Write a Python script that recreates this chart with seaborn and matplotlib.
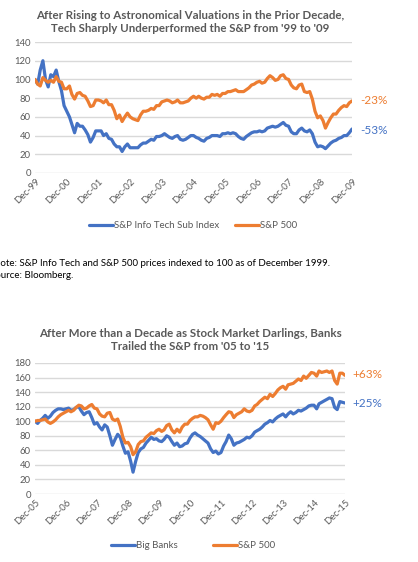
import numpy as np
import pandas as pd
import seaborn as sns
import matplotlib.pyplot as plt
import matplotlib.dates as mdates

# ---- data: monthly index levels ----
tech_dates = pd.date_range('1999-12-31', periods=121, freq='ME')
tech_it = [100,
    95, 110, 120, 100, 92, 105, 103, 110, 98, 88, 72, 66,
    60, 52, 43, 53, 50, 50, 46, 41, 33, 38, 45, 45,
    45, 40, 42, 37, 36, 31, 28, 28, 23, 28, 31, 27,
    27, 27, 27, 30, 32, 32, 34, 36, 35, 39, 39, 40,
    42, 40, 38, 37, 39, 40, 36, 35, 36, 38, 40, 40,
    38, 37, 35, 34, 37, 38, 40, 40, 40, 39, 42, 42,
    43, 42, 43, 42, 39, 37, 36, 39, 41, 43, 44, 44,
    45, 44, 45, 48, 49, 50, 49, 50, 52, 54, 51, 50,
    44, 42, 42, 46, 48, 45, 44, 46, 42, 33, 28, 29,
    28, 26, 29, 32, 34, 35, 37, 38, 40, 40, 43, 47]
tech_sp = [100,
    95, 93, 102, 99, 97, 99, 97, 103, 98, 97, 90, 90,
    93, 84, 79, 85, 86, 83, 82, 77, 71, 72, 78, 78,
    77, 75, 78, 73, 73, 67, 58, 62, 55, 60, 64, 60,
    58, 57, 56, 62, 66, 66, 67, 69, 68, 72, 72, 76,
    77, 78, 77, 75, 76, 78, 75, 75, 76, 77, 80, 82,
    80, 82, 80, 79, 81, 81, 84, 83, 84, 82, 85, 85,
    87, 87, 88, 89, 87, 87, 87, 89, 91, 94, 95, 97,
    98, 96, 97, 101, 104, 102, 99, 100, 104, 105, 101, 100,
    94, 91, 90, 94, 95, 87, 86, 87, 79, 66, 59, 61,
    56, 48, 54, 59, 63, 63, 67, 70, 72, 71, 75, 77]

bank_dates = pd.date_range('2005-12-31', periods=121, freq='ME')
banks = [100,
    97, 101, 104, 108, 104, 107, 112, 115, 117, 117, 116, 117,
    118, 115, 116, 119, 120, 114, 109, 112, 113, 105, 96, 98,
    92, 88, 95, 92, 80, 67, 75, 82, 78, 66, 56, 58,
    45, 30, 45, 57, 62, 64, 70, 74, 78, 75, 76, 73,
    72, 75, 80, 78, 72, 67, 70, 65, 66, 69, 70, 77,
    82, 84, 81, 79, 76, 73, 70, 62, 57, 59, 55, 57,
    66, 72, 81, 76, 67, 70, 71, 73, 75, 78, 77, 80,
    85, 87, 89, 92, 96, 98, 101, 99, 103, 106, 108, 110,
    106, 110, 113, 110, 112, 115, 114, 116, 118, 121, 122, 122,
    117, 124, 126, 128, 130, 132, 131, 119, 116, 127, 126, 125]
bank_sp = [100,
    101, 101, 102, 103, 99, 97, 99, 102, 106, 109, 111, 113,
    115, 113, 115, 119, 122, 121, 117, 118, 121, 123, 118, 117,
    110, 107, 106, 111, 112, 103, 101, 103, 93, 78, 70, 71,
    65, 54, 58, 68, 72, 73, 78, 81, 84, 83, 87, 89,
    86, 88, 94, 96, 88, 84, 89, 85, 92, 96, 96, 101,
    104, 106, 106, 108, 107, 105, 102, 95, 89, 98, 97, 100,
    105, 109, 113, 112, 105, 109, 111, 113, 117, 114, 113, 115,
    121, 123, 127, 130, 133, 131, 137, 134, 138, 143, 146, 148,
    144, 150, 151, 152, 155, 158, 156, 162, 159, 163, 167, 166,
    162, 169, 167, 168, 169, 167, 169, 156, 151, 166, 166, 163]

BLUE = '#4472C4'
ORANGE = '#ED7D31'
GREY = '#595959'

sns.set_style('white')
plt.rcParams['font.family'] = ['Lato', 'DejaVu Sans']

W, H = 418, 562
fig = plt.figure(figsize=(W / 100, H / 100), dpi=100)


def style_axis(ax, dates, ymax, end_labels):
    ax.set_ylim(0, ymax)
    ax.set_yticks(np.arange(0, ymax + 1, 20))
    ax.set_xlim(dates[0], dates[-1])
    ticks = [d for d in dates if d.month == 12]
    ax.set_xticks(ticks)
    ax.xaxis.set_major_formatter(mdates.DateFormatter('%b-%y'))
    ax.grid(axis='y', color='#D9D9D9', lw=1)
    ax.grid(axis='x', visible=False)
    for s in ax.spines.values():
        s.set_visible(False)
    ax.tick_params(axis='both', length=0, labelsize=6.8, labelcolor=GREY, pad=3)
    for lab in ax.get_xticklabels():
        lab.set_rotation(45)
        lab.set_ha('right')
        lab.set_rotation_mode('anchor')
    ax.set_xlabel('')
    ax.set_ylabel('')
    for txt, yv, col in end_labels:
        ax.text(1.025, yv, txt, transform=ax.get_yaxis_transform(),
                color=col, fontsize=8.5, va='center', ha='left')


# ---- top chart ----
df1 = pd.DataFrame({'date': list(tech_dates) * 2,
                    'value': tech_it + tech_sp,
                    'series': ['S&P Info Tech Sub Index'] * 121 + ['S&P 500'] * 121})
ax1 = fig.add_axes([35 / W, 1 - 173 / H, 317 / W, 131 / H])
sns.lineplot(data=df1, x='date', y='value', hue='series',
             palette=[BLUE, ORANGE], lw=2.3, ax=ax1)
style_axis(ax1, tech_dates, 140, [('-23%', 77, ORANGE), ('-53%', 45, BLUE)])
ax1.legend(loc='center', bbox_to_anchor=(193 / W, 1 - 226 / H),
           bbox_transform=fig.transFigure, ncol=2, frameon=False,
           fontsize=7, labelcolor=GREY, handlelength=2.5, handletextpad=0.1,
           columnspacing=1.6)

fig.text(190 / W, 1 - 22 / H,
         "After Rising to Astronomical Valuations in the Prior Decade,\n"
         "Tech Sharply Underperformed the S&P from '99 to '09",
         ha='center', va='center', fontsize=8.3, fontweight='bold',
         color=GREY, linespacing=1.15)

# the note is clipped at the left edge, as in the source image
fig.text(-7 / W, 1 - 263 / H,
         'Note: S&P Info Tech and S&P 500 prices indexed to 100 as of December 1999.',
         ha='left', va='center', fontsize=7, color='black')
fig.text(-10 / W, 1 - 276 / H, 'Source: Bloomberg.',
         ha='left', va='center', fontsize=7, color='black')

# ---- bottom chart ----
df2 = pd.DataFrame({'date': list(bank_dates) * 2,
                    'value': banks + bank_sp,
                    'series': ['Big Banks'] * 121 + ['S&P 500'] * 121})
ax2 = fig.add_axes([35 / W, 1 - 494 / H, 310 / W, 131 / H])
sns.lineplot(data=df2, x='date', y='value', hue='series',
             palette=[BLUE, ORANGE], lw=2.3, ax=ax2)
style_axis(ax2, bank_dates, 180, [('+63%', 164, ORANGE), ('+25%', 124, BLUE)])
ax2.legend(loc='center', bbox_to_anchor=(193 / W, 1 - 546 / H),
           bbox_transform=fig.transFigure, ncol=2, frameon=False,
           fontsize=7, labelcolor=GREY, handlelength=2.5, handletextpad=0.1,
           columnspacing=3.6)

fig.text(190 / W, 1 - 340 / H,
         "After More than a Decade as Stock Market Darlings, Banks\n"
         "Trailed the S&P from '05 to '15",
         ha='center', va='center', fontsize=8.3, fontweight='bold',
         color=GREY, linespacing=1.15)

fig.savefig('out.png', dpi=100)
